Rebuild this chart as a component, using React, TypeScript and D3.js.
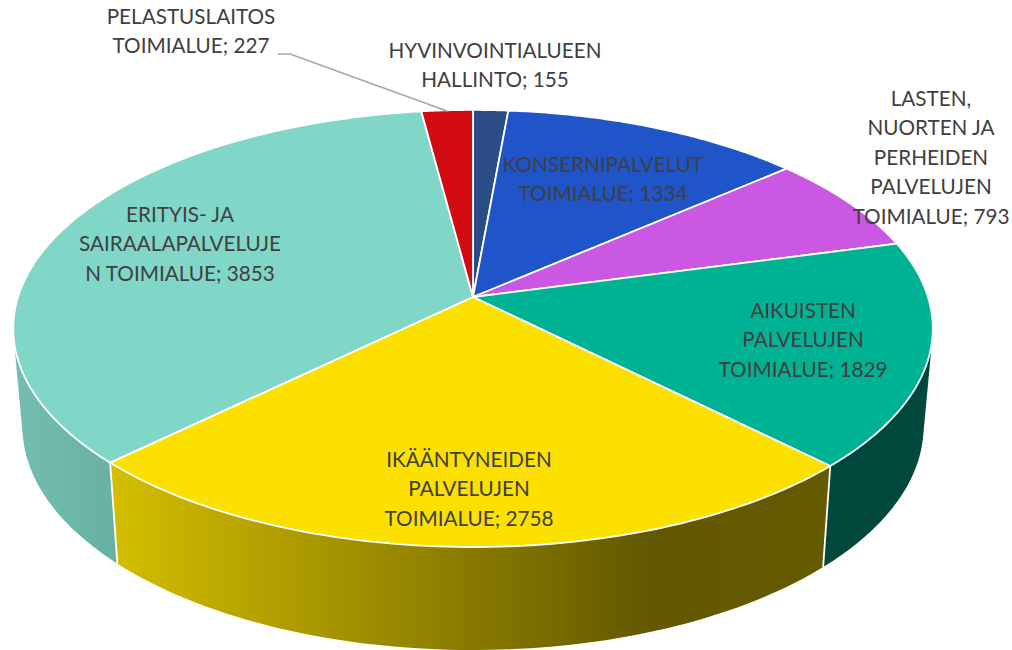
import React, { useMemo } from "react";
import * as d3 from "d3";

const categories = [
  "HYVINVOINTIALUEEN HALLINTO",
  "KONSERNIPALVELUT TOIMIALUE",
  "LASTEN, NUORTEN JA PERHEIDEN PALVELUJEN TOIMIALUE",
  "AIKUISTEN PALVELUJEN TOIMIALUE",
  "IKÄÄNTYNEIDEN PALVELUJEN TOIMIALUE",
  "ERITYIS- JA SAIRAALAPALVELUJEN TOIMIALUE",
  "PELASTUSLAITOS TOIMIALUE",
];
const values = [155, 1334, 793, 1829, 2758, 3853, 227];
const topColors = ["#2b4c85", "#1f55c8", "#cb58e3", "#00b294", "#fbe000", "#80d7c8", "#d20a11"];
const wallColors = ["#1a2e50", "#133378", "#7a3588", "#00483c", "url(#yellowWall)", "url(#tealWall)", "#7e060a"];
const labelLines = [
  ["HYVINVOINTIALUEEN", "HALLINTO; 155"],
  ["KONSERNIPALVELUT", "TOIMIALUE; 1334"],
  ["LASTEN,", "NUORTEN JA", "PERHEIDEN", "PALVELUJEN", "TOIMIALUE; 793"],
  ["AIKUISTEN", "PALVELUJEN", "TOIMIALUE; 1829"],
  ["IKÄÄNTYNEIDEN", "PALVELUJEN", "TOIMIALUE; 2758"],
  ["ERITYIS- JA", "SAIRAALAPALVELUJE", "N TOIMIALUE; 3853"],
  ["PELASTUSLAITOS", "TOIMIALUE; 227"],
];
const labelCenters = [495, 603, 931, 803, 469, 180, 191];
const labelBaselines = [58, 172, 106, 318, 467, 222, 24];

const CX = 473, CY = 297, A = 455, B = 214, K = -0.144;
const BOTTOM_X = 0.98, BOTTOM_Y = 1.024, BOTTOM_D = 97;
const FONT = "Lato, 'Open Sans', sans-serif";

type P = [number, number];
const top = (t: number): P => {
  const X = Math.sin(t), Y = -Math.cos(t), w = 1 + K * Y;
  return [CX + (A * X) / w, CY + (B * Y) / w];
};
const bottom = (t: number): P => {
  const [x, y] = top(t);
  return [CX + (x - CX) * BOTTOM_X, CY + (y - CY) * BOTTOM_Y + BOTTOM_D];
};
const samples = (a: number, b: number, n = 80) => d3.range(0, n + 1).map((i) => a + ((b - a) * i) / n);
const line = d3.line<P>().x((d) => d[0]).y((d) => d[1]);

const wallPath = (a: number, b: number) => {
  const ts = samples(a, b);
  return d3
    .pairs(ts)
    .map(([t0, t1]) => {
      const quad = [top(t0), top(t1), bottom(t1), bottom(t0)];
      // keep a single winding so the overlapping strips never cancel
      const area = d3.polygonArea(quad);
      return line(area < 0 ? quad.slice().reverse() : quad) + "Z";
    })
    .join("");
};

export default function App() {
  const arcs = useMemo(() => d3.pie<number>().sort(null)(values), []);
  return (
    <svg
      width={1012}
      height={650}
      viewBox="0 0 1012 650"
      style={{ position: "absolute", left: 0, top: 0, display: "block" }}
    >
      <defs>
        <linearGradient id="yellowWall" gradientUnits="userSpaceOnUse" x1={111} x2={830} y1={0} y2={0}>
          <stop offset="0" stopColor="#d4be00" />
          <stop offset="0.75" stopColor="#625800" />
          <stop offset="1" stopColor="#665a00" />
        </linearGradient>
        <linearGradient id="tealWall" gradientUnits="userSpaceOnUse" x1={14} x2={118} y1={0} y2={0}>
          <stop offset="0" stopColor="#74bdb1" />
          <stop offset="1" stopColor="#68b0a4" />
        </linearGradient>
      </defs>
      <g stroke="#ffffff" strokeLinejoin="round">
        {arcs.map((a, i) => (
          <path key={categories[i] + "w"} d={wallPath(a.startAngle, a.endAngle)} fill={wallColors[i]} stroke="none" />
        ))}
        {arcs.map((a, i) => (
          <path
            key={categories[i] + "e"}
            d={line([top(a.startAngle), bottom(a.startAngle)]) as string}
            fill="none"
            strokeWidth={1.8}
          />
        ))}
        {arcs.map((a, i) => {
          const pts: P[] = [[CX, CY], ...samples(a.startAngle, a.endAngle).map(top)];
          return <path key={categories[i]} d={line(pts) + "Z"} fill={topColors[i]} strokeWidth={1.8} />;
        })}
      </g>
      <polyline points="278,54 290,54 447,111" fill="none" stroke="#a6a6a6" strokeWidth={1.5} />
      <g fontFamily={FONT} fontSize={20.7} fill="#404040" textAnchor="middle">
        {labelLines.map((lines, i) =>
          lines.map((s, j) => (
            <text key={s + i} x={labelCenters[i]} y={labelBaselines[i] + j * 29.4}>
              {s}
            </text>
          ))
        )}
      </g>
    </svg>
  );
}
